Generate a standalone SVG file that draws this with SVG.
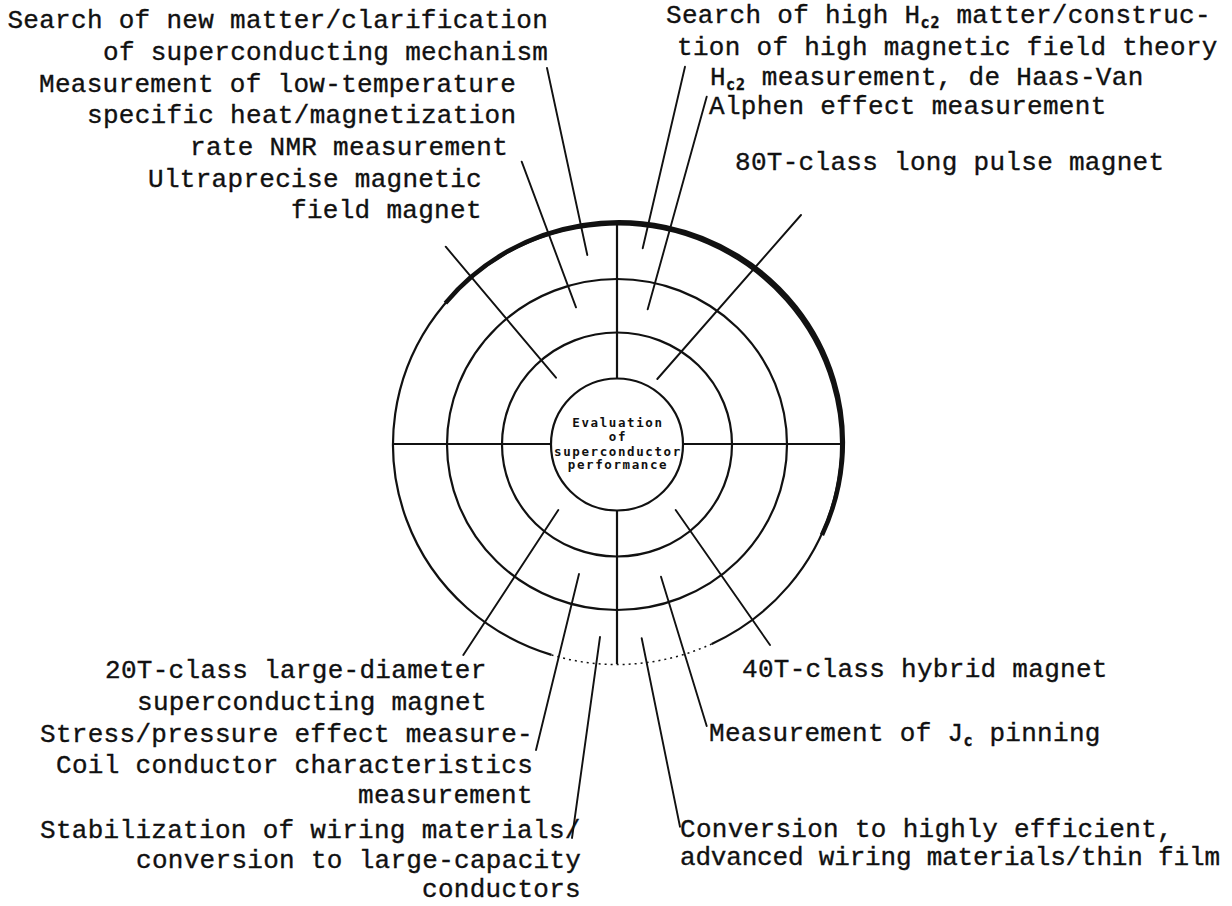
<svg xmlns="http://www.w3.org/2000/svg" width="1232" height="906" viewBox="0 0 1232 906">
<style>
.lbl{font-family:"Liberation Mono","DejaVu Sans Mono",monospace;font-size:26px;letter-spacing:0.3px;fill:#111;stroke:#111;stroke-width:0.35}
.sub{font-family:"DejaVu Sans Mono",monospace;font-size:15px;font-weight:bold;letter-spacing:1px}
.ctr{font-family:"DejaVu Sans Mono",monospace;font-size:12.5px;font-weight:bold;letter-spacing:1.6px;fill:#111;text-anchor:middle}
.ring{fill:none;stroke:#111;stroke-width:2.2}
.rad{stroke:#111;stroke-width:2.2;fill:none}
.ldr{stroke:#111;stroke-width:1.9;fill:none;stroke-linecap:round}
</style>
<rect width="1232" height="906" fill="#fff"/>
<g id="rings">
<path class="ring" d="M551.5,654.9 A224,220 0 1 1 711.7,643.9" stroke-width="2.4"/>
<path d="M445.4,303.1 A224,220 0 0 1 822,535" fill="none" stroke="#111" stroke-width="4.5"/>
<path d="M711.7,643.9 A224,220 0 0 1 551.5,654.9" fill="none" stroke="#111" stroke-width="1.5" stroke-dasharray="2 4"/>
<ellipse class="ring" cx="617" cy="444.5" rx="170" ry="165.5"/>
<ellipse class="ring" cx="617" cy="444.5" rx="115" ry="112"/>
</g>
<g id="spokes">
<line class="rad" x1="617" y1="224.5" x2="617" y2="378.5" stroke-width="1.6"/>
<line class="rad" x1="617" y1="510.5" x2="617" y2="664"/>
<line class="rad" x1="393" y1="444" x2="551" y2="444" stroke-width="2.6"/>
<line class="rad" x1="683" y1="444" x2="841" y2="444" stroke-width="2.6"/>
</g>
<g id="center">
<circle class="ring" cx="617" cy="444.5" r="66"/>
<text class="ctr" x="618" y="427.3">Evaluation</text>
<text class="ctr" x="618" y="440.5">of</text>
<text class="ctr" x="618" y="455.5">superconductor</text>
<text class="ctr" x="618" y="468.5">performance</text>
</g>
<g id="connectors">
<line class="ldr" x1="547" y1="68" x2="587.3" y2="255"/>
<line class="ldr" x1="521.7" y1="161.7" x2="576" y2="307.3"/>
<line class="ldr" x1="445.7" y1="246.7" x2="556" y2="377.7"/>
<line class="ldr" x1="685" y1="66.7" x2="642.7" y2="248.3"/>
<line class="ldr" x1="706.7" y1="96.7" x2="647.7" y2="309.3"/>
<line class="ldr" x1="801" y1="215" x2="657.3" y2="379"/>
<line class="ldr" x1="558.3" y1="510" x2="463.3" y2="655"/>
<line class="ldr" x1="579" y1="574" x2="536" y2="750"/>
<line class="ldr" x1="600" y1="637" x2="572" y2="838"/>
<line class="ldr" x1="675.7" y1="510" x2="770" y2="645"/>
<line class="ldr" x1="661" y1="576.7" x2="706.7" y2="726"/>
<line class="ldr" x1="641.7" y1="638.3" x2="680" y2="826.7"/>
</g>
<g id="label-new-matter">
<text class="lbl" x="7.4" y="28">Search of new matter/clarification</text>
<text class="lbl" x="103" y="60">of superconducting mechanism</text>
</g>
<g id="label-low-temp">
<text class="lbl" x="39" y="92">Measurement of low-temperature</text>
<text class="lbl" x="87" y="123">specific heat/magnetization</text>
<text class="lbl" x="190" y="155">rate NMR measurement</text>
</g>
<g id="label-ultraprecise">
<text class="lbl" x="148" y="187">Ultraprecise magnetic</text>
<text class="lbl" x="291" y="218">field magnet</text>
</g>
<g id="label-high-hc2">
<text class="lbl" x="666" y="23">Search of high H<tspan class="sub" dy="5">c2</tspan><tspan dy="-5"> matter/construc-</tspan></text>
<text class="lbl" x="677" y="55">tion of high magnetic field theory</text>
</g>
<g id="label-hc2-meas">
<text class="lbl" x="710" y="85">H<tspan class="sub" dy="5">c2</tspan><tspan dy="-5"> measurement, de Haas-Van</tspan></text>
<text class="lbl" x="709" y="114">Alphen effect measurement</text>
</g>
<g id="label-80t">
<text class="lbl" x="735" y="170">80T-class long pulse magnet</text>
</g>
<g id="label-20t">
<text class="lbl" x="105" y="678">20T-class large-diameter</text>
<text class="lbl" x="137" y="710">superconducting magnet</text>
</g>
<g id="label-stress">
<text class="lbl" x="40" y="742">Stress/pressure effect measure-</text>
<text class="lbl" x="56" y="773">Coil conductor characteristics</text>
<text class="lbl" x="358" y="803">measurement</text>
</g>
<g id="label-stabilization">
<text class="lbl" x="40" y="838">Stabilization of wiring materials/</text>
<text class="lbl" x="136" y="868">conversion to large-capacity</text>
<text class="lbl" x="422" y="897">conductors</text>
</g>
<g id="label-40t">
<text class="lbl" x="742" y="677">40T-class hybrid magnet</text>
</g>
<g id="label-jc">
<text class="lbl" x="709" y="741">Measurement of J<tspan class="sub" dy="5">c</tspan><tspan dy="-5"> pinning</tspan></text>
</g>
<g id="label-conversion">
<text class="lbl" x="680" y="837">Conversion to highly efficient,</text>
<text class="lbl" x="680" y="865" style="letter-spacing:0" textLength="540" lengthAdjust="spacing">advanced wiring materials/thin film</text>
</g>
</svg>
